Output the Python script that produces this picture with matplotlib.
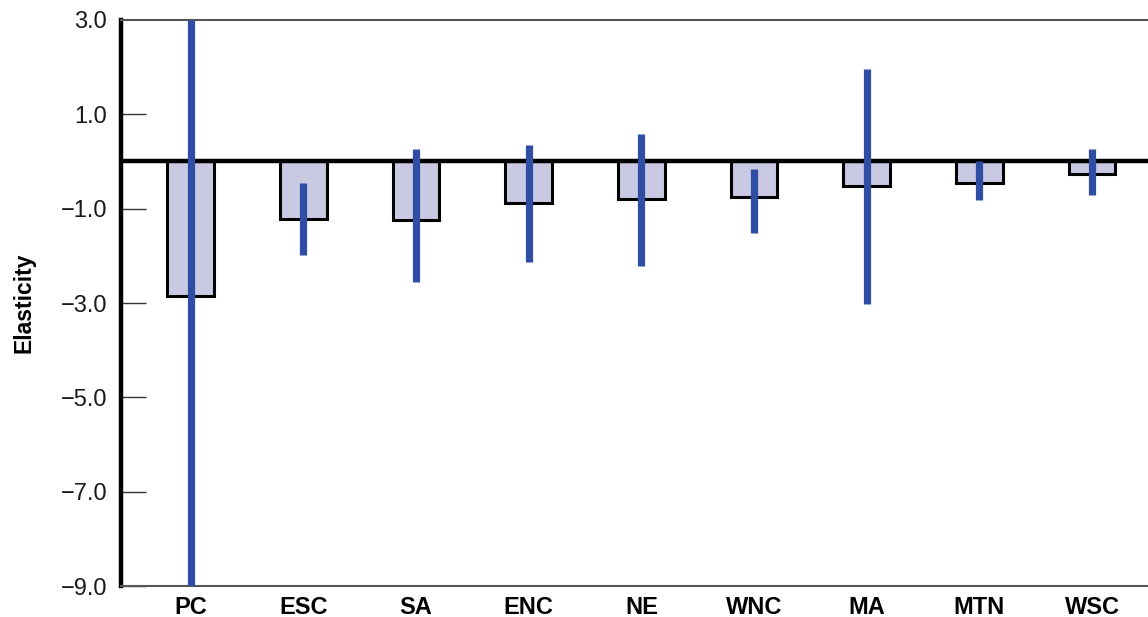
import matplotlib
matplotlib.use("Agg")
import matplotlib.pyplot as plt
import numpy as np

plt.rcParams['font.family'] = ['Liberation Sans', 'DejaVu Sans']

regions = ["PC", "ESC", "SA", "ENC", "NE", "WNC", "MA", "MTN", "WSC"]
elasticity = [-2.86, -1.22, -1.23, -0.89, -0.79, -0.76, -0.53, -0.46, -0.27]
ci_low = [-9.0, -1.98, -2.55, -2.14, -2.21, -1.51, -3.03, -0.82, -0.72]
ci_high = [3.0, -0.46, 0.26, 0.34, 0.59, -0.15, 1.96, 0.02, 0.27]
yticks = [3.0, 1.0, -1.0, -3.0, -5.0, -7.0, -9.0]
ytick_labels = ["3.0", "1.0", "\u22121.0", "\u22123.0", "\u22125.0", "\u22127.0", "\u22129.0"]

fig = plt.figure(figsize=(11.48, 6.17), dpi=100)
ax = fig.add_axes([0.1054, 0.0502, 0.8946, 0.9174])

x = np.arange(len(regions))
ax.bar(x, elasticity, width=0.415, color="#C9C9E3", edgecolor="black",
       linewidth=2.2, zorder=2)
ax.axhline(0, color="black", linewidth=3.2, zorder=3)
ax.vlines(x, ci_low, ci_high, color="#2E4DA3", linewidth=5.2, zorder=4)

ax.set_xlim(-0.617, 8.496)
ax.set_ylim(-9.0, 3.0)
ax.set_yticks(yticks)
ax.set_yticklabels(ytick_labels, fontsize=17, color="#1a1a1a")
ax.set_xticks(x)
ax.set_xticklabels(regions, fontsize=17, fontweight="bold")
ax.tick_params(axis="x", length=0, pad=7)
ax.tick_params(axis="y", direction="in", length=18, width=1.0, color="#333333", pad=10)
for t in ax.yaxis.get_major_ticks()[:1]:
    t.tick1line.set_visible(False)
ax.set_ylabel("Elasticity", fontsize=16.5, fontweight="bold")
ax.yaxis.set_label_coords(-0.083, 0.5)

ax.spines["right"].set_visible(False)
ax.spines["left"].set_linewidth(3.2)
ax.spines["left"].set_color("black")
ax.spines["top"].set_linewidth(1.5)
ax.spines["top"].set_color("#555555")
ax.spines["bottom"].set_linewidth(1.5)
ax.spines["bottom"].set_color("#555555")

fig.savefig("out.png", dpi=100)
